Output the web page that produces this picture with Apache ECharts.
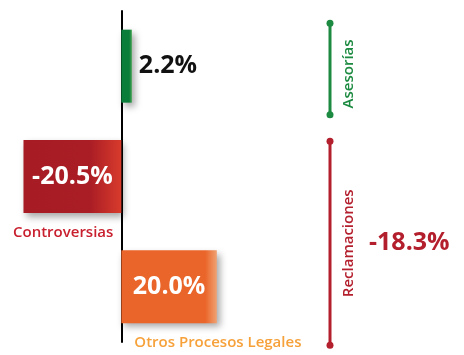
<!DOCTYPE html>
<html>
<head>
<meta charset="utf-8">
<script src="https://cdn.jsdelivr.net/npm/echarts@6/dist/echarts.min.js"></script>
<style>
  html, body { margin: 0; padding: 0; background: #fff; }
  #chart { width: 464px; height: 355px; }
</style>
</head>
<body>
<div id="chart"></div>
<script>
// categories and their change (%)
const categories = ['Asesorías', 'Controversias', 'Otros Procesos Legales'];
const values = [2.2, -20.5, 20.0];
const valueLabels = ['2.2%', '-20.5%', '20.0%'];

// groups shown on the right: first and last category index, total
const groupNames = ['Asesorías', 'Reclamaciones'];
const groupFrom = [0, 1];
const groupTo = [0, 2];
const groupTotals = ['', '-18.3%'];

const FONT = '"Open Sans", "Noto Sans", sans-serif';

// one gradient per bar, lighter at the right end
const barColors = [
    ['#0b7d3a', '#0b7d3a', '#45a553'],
    ['#a61b24', '#aa1d25', '#d83b2c'],
    ['#ea6529', '#ea6529', '#f0a273']
];
const gradStops = [[0, 0.75, 1], [0, 0.68, 1], [0, 0.88, 1]];
const nameColors = ['#1c8a40', '#c8202e', '#f6a13a'];
const groupColors = ['#1c8a40', '#b41f2d'];

function barItem(v, i) {
    return {
        value: v,
        itemStyle: {
            color: new echarts.graphic.LinearGradient(0, 0, 1, 0, barColors[i].map((c, k) => ({ offset: gradStops[i][k], color: c })))
        },
        label: {
            show: true,
            position: i === 0 ? 'right' : 'inside',
            distance: 7,
            formatter: valueLabels[i],
            color: i === 0 ? '#111' : '#fff',
            fontFamily: FONT,
            fontWeight: 'bold',
            fontSize: 25
        }
    };
}

let chart = echarts.init(document.getElementById('chart'));

chart.setOption({
    animation: false,
    grid: { left: 2, right: 135, top: 11, bottom: 13 },
    xAxis: {
        type: 'value',
        min: -25,
        max: 43.5,
        show: false
    },
    yAxis: {
        type: 'category',
        data: categories,
        inverse: true,
        axisLine: { onZero: true, lineStyle: { color: '#000', width: 2 } },
        axisTick: { show: false },
        axisLabel: { show: false }
    },
    series: [
        {
            type: 'bar',
            barWidth: 73,
            data: values.map(barItem),
            itemStyle: {
                shadowBlur: 7,
                shadowColor: 'rgba(0,0,0,0.35)',
                shadowOffsetX: 3,
                shadowOffsetY: 4
            },
            z: 3
        },
        {
            // category names under the bars (the first one is named on the right)
            type: 'custom',
            data: values.map((v, i) => [v, i]),
            renderItem: function (params, api) {
                let i = api.value(1);
                if (i === 0) return;
                let p = api.coord([0, i]);
                let neg = api.value(0) < 0;
                return {
                    type: 'text',
                    x: neg ? p[0] - 8 : p[0] + 13,
                    y: p[1] + 56,
                    style: {
                        text: categories[i],
                        fill: nameColors[i],
                        font: '600 15px ' + FONT,
                        align: neg ? 'right' : 'left',
                        verticalAlign: 'middle'
                    }
                };
            },
            z: 4
        },
        {
            // brackets with the group name and total
            type: 'custom',
            data: groupNames.map((n, g) => [groupFrom[g], groupTo[g], g]),
            renderItem: function (params, api) {
                let g = api.value(2);
                let band = api.size([0, 1])[1];
                let x = params.coordSys.x + params.coordSys.width + 1;
                let y1 = api.coord([0, api.value(0)])[1] - band * (g === 0 ? 0.39 : 0.32);
                let y2 = api.coord([0, api.value(1)])[1] + band * (g === 0 ? 0.44 : 0.53);
                let col = groupColors[g];
                let mid = (y1 + y2) / 2;
                let children = [
                    { type: 'line', shape: { x1: x, y1: y1, x2: x, y2: y2 }, style: { stroke: col, lineWidth: 3 } },
                    { type: 'circle', shape: { cx: x, cy: y1, r: 3.5 }, style: { fill: col } },
                    { type: 'circle', shape: { cx: x, cy: y2, r: 3.5 }, style: { fill: col } },
                    {
                        type: 'text', x: x + 19, y: mid + (g === 0 ? 5 : 0), rotation: Math.PI / 2,
                        style: { text: groupNames[g], fill: col, font: '600 15px ' + FONT, align: 'center', verticalAlign: 'middle' }
                    }
                ];
                if (groupTotals[g]) {
                    children.push({
                        type: 'text', x: x + 39, y: mid,
                        style: { text: groupTotals[g], fill: col, font: 'bold 25px ' + FONT, align: 'left', verticalAlign: 'middle' }
                    });
                }
                return { type: 'group', children: children };
            },
            z: 4
        }
    ]
});
</script>
</body>
</html>
